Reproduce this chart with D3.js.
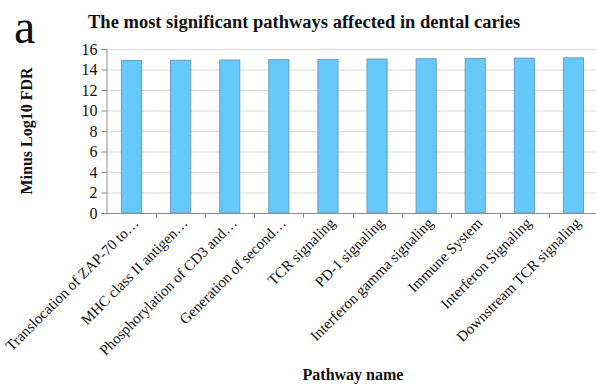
<!DOCTYPE html>
<html>
<head>
<meta charset="utf-8">
<script src="https://cdn.jsdelivr.net/npm/d3@7"></script>
<style>
  html, body { margin: 0; padding: 0; background: #fff; }
  svg { display: block; }
  text { font-family: "Liberation Serif", "Times New Roman", serif; fill: #111; }
</style>
</head>
<body>
<svg id="chart" width="596" height="387"></svg>
<script>
// Pathways and their -log10(FDR) values
const pathways = [
  "Translocation of ZAP-70 to…",
  "MHC class II antigen…",
  "Phosphorylation of CD3 and…",
  "Generation of second…",
  "TCR signaling",
  "PD-1 signaling",
  "Interferon gamma signaling",
  "Immune System",
  "Interferon Signaling",
  "Downstream TCR signaling"
];
const minusLog10FDR = [14.88, 14.9, 14.93, 14.96, 14.99, 15.02, 15.05, 15.08, 15.11, 15.14];
const yTicks = [0, 2, 4, 6, 8, 10, 12, 14, 16];

const svg = d3.select("#chart");
const margin = { left: 106, top: 49, bottom: 213 };
const plotRight = 598;

const x = d3.scaleBand()
  .domain(pathways)
  .range([margin.left + 1, plotRight])
  .paddingInner(0.59)
  .paddingOuter(0.295);

const y = d3.scaleLinear()
  .domain([0, 16])
  .range([margin.bottom, margin.top]);

// Horizontal gridlines
svg.append("g")
  .selectAll("line")
  .data(yTicks.filter(t => t > 0))
  .join("line")
  .attr("x1", margin.left)
  .attr("x2", 596)
  .attr("y1", d => y(d) + 0.5)
  .attr("y2", d => y(d) + 0.5)
  .attr("stroke", "#d9d9d9")
  .attr("stroke-width", 1);

// Bars
svg.append("g")
  .selectAll("rect")
  .data(pathways)
  .join("rect")
  .attr("x", d => x(d))
  .attr("width", x.bandwidth())
  .attr("y", (d, i) => y(minusLog10FDR[i]))
  .attr("height", (d, i) => y(0) - y(minusLog10FDR[i]))
  .attr("fill", "#66c9fb")
  .attr("stroke", "#6f9cc0")
  .attr("stroke-width", 1);

// Y axis
const yAxis = d3.axisLeft(y).tickValues(yTicks).tickSize(5).tickPadding(4);
const gy = svg.append("g")
  .attr("transform", `translate(${margin.left + 0.5},0)`)
  .call(yAxis);
gy.select(".domain").attr("stroke", "#8c8c8c");
gy.selectAll(".tick line").attr("stroke", "#8c8c8c");
gy.selectAll(".tick text")
  .attr("font-size", 16)
  .attr("font-family", "Liberation Serif, serif")
  .attr("fill", "#111");

// X axis line and tick marks at band boundaries
const step = x.step();
const boundaries = d3.range(pathways.length + 1).map(i => x.range()[0] + i * step);
svg.append("line")
  .attr("x1", margin.left - 5)
  .attr("x2", plotRight)
  .attr("y1", y(0) + 0.5)
  .attr("y2", y(0) + 0.5)
  .attr("stroke", "#8c8c8c");
svg.append("g")
  .selectAll("line")
  .data(boundaries.slice(1))
  .join("line")
  .attr("x1", d => Math.round(d) + 0.5)
  .attr("x2", d => Math.round(d) + 0.5)
  .attr("y1", y(0))
  .attr("y2", y(0) + 5)
  .attr("stroke", "#8c8c8c");

// Rotated category labels
svg.append("g")
  .selectAll("text")
  .data(pathways)
  .join("text")
  .attr("transform", d => `translate(${x(d) + x.bandwidth() / 2 + 8},${y(0) + 11}) rotate(-45)`)
  .attr("text-anchor", "end")
  .attr("font-size", 15)
  .text(d => d);

// Titles
svg.append("text")
  .attr("x", 14)
  .attr("y", 43)
  .attr("font-size", 48)
  .text("a");

svg.append("text")
  .attr("x", 88)
  .attr("y", 28)
  .attr("font-size", 18.5)
  .attr("font-weight", "bold")
  .text("The most significant pathways affected in dental caries");

svg.append("text")
  .attr("transform", `translate(32,131) rotate(-90)`)
  .attr("text-anchor", "middle")
  .attr("font-size", 16)
  .attr("font-weight", "bold")
  .text("Minus Log10 FDR");

svg.append("text")
  .attr("x", 353)
  .attr("y", 380)
  .attr("text-anchor", "middle")
  .attr("font-size", 16)
  .attr("font-weight", "bold")
  .text("Pathway name");
</script>
</body>
</html>
